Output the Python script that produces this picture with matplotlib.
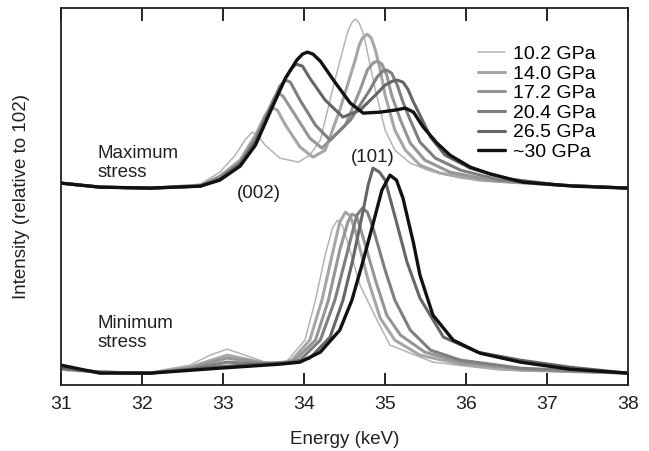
import matplotlib.pyplot as plt

plt.rcParams['font.family'] = ['Liberation Sans', 'DejaVu Sans']

# Pressures (legend labels) and line styles
labels = ['10.2 GPa', '14.0 GPa', '17.2 GPa', '20.4 GPa', '26.5 GPa', '~30 GPa']
couleurs = ['#b4b4b4', '#a6a6a6', '#969696', '#7f7f7f', '#666666', '#111111']
epaisseurs = [1.1, 2.2, 2.2, 2.2, 2.2, 2.4]

# Maximum stress spectra (energy in keV, intensity in arbitrary units incl. offset)
max_e_102 = [31.00, 31.48, 32.10, 32.72, 32.96, 33.15, 33.27, 33.36, 33.43, 33.52, 33.70, 33.93, 34.07, 34.20,
             34.38, 34.51, 34.55, 34.60, 34.64, 34.68, 34.72, 34.75, 34.88, 35.00, 35.12, 35.31, 35.56, 35.93,
             36.42, 37.16, 38.00]
max_i_102 = [202, 198, 197, 201, 213, 230, 245, 253, 249, 240, 227, 223, 230, 245,
             305, 345, 356, 364, 366, 362, 354, 345, 295, 255, 235, 222, 214, 207,
             203, 199, 197]
max_e_140 = [31.00, 31.48, 32.10, 32.72, 32.96, 33.21, 33.40, 33.52, 33.59, 33.67, 33.77, 33.95, 34.11, 34.26,
             34.44, 34.63, 34.68, 34.72, 34.78, 34.83, 34.88, 34.94, 35.00, 35.12, 35.25, 35.43, 35.68, 36.17,
             37.16, 38.00]
max_i_140 = [202, 198, 197, 200, 209, 225, 250, 270, 278, 275, 260, 238, 228, 235,
             275, 325, 340, 347, 351, 347, 335, 315, 290, 255, 235, 220, 212, 205,
             200, 197]
max_e_172 = [31.00, 31.48, 32.10, 32.72, 32.96, 33.21, 33.40, 33.56, 33.63, 33.68, 33.74, 33.89, 34.07, 34.22,
             34.51, 34.69, 34.78, 34.85, 34.90, 34.96, 35.02, 35.08, 35.19, 35.31, 35.49, 35.80, 36.30, 37.16,
             38.00]
max_i_172 = [202, 198, 197, 199, 208, 223, 247, 275, 287, 292, 289, 270, 247, 237,
             260, 295, 315, 322, 324, 321, 310, 290, 265, 242, 225, 213, 205, 200,
             197]
max_e_204 = [31.00, 31.48, 32.10, 32.72, 32.96, 33.21, 33.40, 33.58, 33.70, 33.77, 33.83, 33.95, 34.14, 34.32,
             34.57, 34.81, 34.90, 34.97, 35.02, 35.08, 35.15, 35.22, 35.31, 35.43, 35.62, 35.93, 36.42, 37.16,
             38.00]
max_i_204 = [202, 198, 197, 199, 207, 222, 245, 277, 299, 305, 303, 285, 260, 245,
             265, 295, 308, 314, 315, 312, 300, 283, 265, 243, 227, 215, 205, 200,
             197]
max_e_265 = [31.00, 31.48, 32.10, 32.72, 32.96, 33.21, 33.40, 33.58, 33.77, 33.85, 33.90, 33.98, 34.07, 34.26,
             34.48, 34.69, 34.88, 35.00, 35.09, 35.15, 35.22, 35.28, 35.35, 35.43, 35.56, 35.74, 36.05, 36.54,
             37.16, 38.00]
max_i_265 = [202, 198, 197, 199, 206, 221, 243, 275, 307, 317, 321, 319, 307, 285,
             268, 275, 290, 300, 304, 305, 303, 296, 283, 270, 248, 230, 217, 206,
             200, 197]
max_e_300 = [31.00, 31.48, 32.10, 32.72, 32.96, 33.21, 33.40, 33.58, 33.77, 33.91, 33.98, 34.04, 34.11, 34.20,
             34.38, 34.57, 34.73, 34.94, 35.12, 35.25, 35.35, 35.47, 35.64, 35.80, 36.05, 36.30, 36.70, 37.32,
             38.00]
max_i_300 = [202, 198, 197, 199, 205, 219, 240, 273, 307, 325, 331, 333, 331, 324,
             303, 282, 272, 273, 275, 277, 273, 258, 242, 230, 218, 211, 203, 199,
             197]

# Minimum stress spectra
min_e_102 = [31.00, 31.48, 32.10, 32.59, 32.84, 33.05, 33.27, 33.52, 33.70, 33.80, 34.01, 34.14, 34.26, 34.35,
             34.41, 34.47, 34.53, 34.69, 34.90, 35.06, 35.59, 36.42, 38.00]
min_i_102 = [15, 12, 13, 20, 30, 36, 30, 23, 22, 25, 45, 85, 130, 157,
             165, 160, 145, 100, 65, 40, 23, 15, 12]
min_e_140 = [31.00, 31.48, 32.10, 32.59, 33.05, 33.52, 33.77, 33.85, 34.07, 34.22, 34.36, 34.44, 34.51, 34.57,
             34.63, 34.79, 34.94, 35.12, 35.43, 35.93, 36.67, 38.00]
min_i_140 = [16, 13, 12, 18, 30, 22, 23, 25, 45, 85, 135, 163, 173, 169,
             155, 105, 67, 45, 30, 21, 15, 12]
min_e_172 = [31.00, 31.48, 32.10, 32.59, 33.05, 33.52, 33.77, 33.89, 34.14, 34.30, 34.44, 34.54, 34.59, 34.65,
             34.72, 34.88, 35.02, 35.19, 35.49, 35.93, 36.67, 38.00]
min_i_172 = [17, 13, 12, 17, 27, 22, 22, 25, 45, 85, 135, 163, 171, 169,
             150, 105, 70, 50, 33, 23, 16, 12]
min_e_204 = [31.00, 31.48, 32.10, 32.59, 33.05, 33.52, 33.77, 33.95, 34.20, 34.38, 34.54, 34.65, 34.72, 34.78,
             34.84, 35.00, 35.12, 35.31, 35.56, 35.93, 36.67, 38.00]
min_i_204 = [17, 13, 12, 16, 23, 21, 22, 25, 45, 85, 135, 170, 177, 173,
             160, 115, 85, 55, 35, 25, 17, 12]
min_e_265 = [31.00, 31.48, 32.10, 33.05, 33.70, 33.89, 34.07, 34.32, 34.48, 34.60, 34.73, 34.79, 34.85, 34.93,
             35.00, 35.15, 35.27, 35.43, 35.72, 36.14, 36.67, 37.28, 38.00]
min_i_265 = [17, 13, 12, 19, 22, 23, 27, 48, 85, 125, 175, 200, 217, 213,
             205, 160, 123, 87, 48, 33, 25, 18, 12]
min_e_300 = [31.00, 31.48, 32.10, 32.96, 33.70, 33.95, 34.20, 34.44, 34.59, 34.72, 34.84, 34.96, 35.06, 35.14,
             35.22, 35.35, 35.43, 35.59, 35.84, 36.17, 36.67, 37.28, 38.00]
min_i_300 = [20, 12, 12, 17, 21, 23, 33, 55, 85, 122, 158, 195, 210, 205,
             187, 142, 110, 70, 45, 32, 23, 16, 12]

max_e = [max_e_102, max_e_140, max_e_172, max_e_204, max_e_265, max_e_300]
max_i = [max_i_102, max_i_140, max_i_172, max_i_204, max_i_265, max_i_300]
min_e = [min_e_102, min_e_140, min_e_172, min_e_204, min_e_265, min_e_300]
min_i = [min_i_102, min_i_140, min_i_172, min_i_204, min_i_265, min_i_300]

fig = plt.figure(figsize=(6.49, 4.51), dpi=100)
ax = fig.add_axes([0.094, 0.146, 0.874, 0.836])

for k in range(6):
    ax.plot(max_e[k], max_i[k], color=couleurs[k], lw=epaisseurs[k], label=labels[k],
            solid_joinstyle='round', solid_capstyle='round')
    ax.plot(min_e[k], min_i[k], color=couleurs[k], lw=epaisseurs[k],
            solid_joinstyle='round', solid_capstyle='round')

ax.set_xlim(31, 38)
ax.set_ylim(0, 377)
ax.set_xticks(range(31, 39))
ax.set_yticks([])
ax.tick_params(axis='x', direction='in', length=9, width=1.2, top=True, labelsize=14, pad=8,
               labelcolor='#222222')
for s in ax.spines.values():
    s.set_linewidth(1.3)
    s.set_color('#222222')

ax.set_xlabel('Energy (keV)', fontsize=13.5, labelpad=13, color='#222222')
ax.set_ylabel('Intensity (relative to 102)', fontsize=13.5, labelpad=22, color='#222222')

ax.text(31.45, 204, 'Maximum\nstress', fontsize=13.5, va='bottom', ha='left', linespacing=1.2, color='#222222')
ax.text(31.45, 34, 'Minimum\nstress', fontsize=13.5, va='bottom', ha='left', linespacing=1.2, color='#222222')
ax.text(33.44, 192, '(002)', fontsize=13.5, ha='center', va='center', color='#222222')
ax.text(34.85, 228, '(101)', fontsize=13.5, ha='center', va='center', color='#222222')

ax.legend(loc='upper left', bbox_to_anchor=(0.7365, 0.899), bbox_transform=fig.transFigure,
          frameon=False, fontsize=14, handlelength=1.4, handletextpad=0.4,
          labelspacing=0.1, borderpad=0, borderaxespad=0)

fig.savefig('out.png', dpi=100)
